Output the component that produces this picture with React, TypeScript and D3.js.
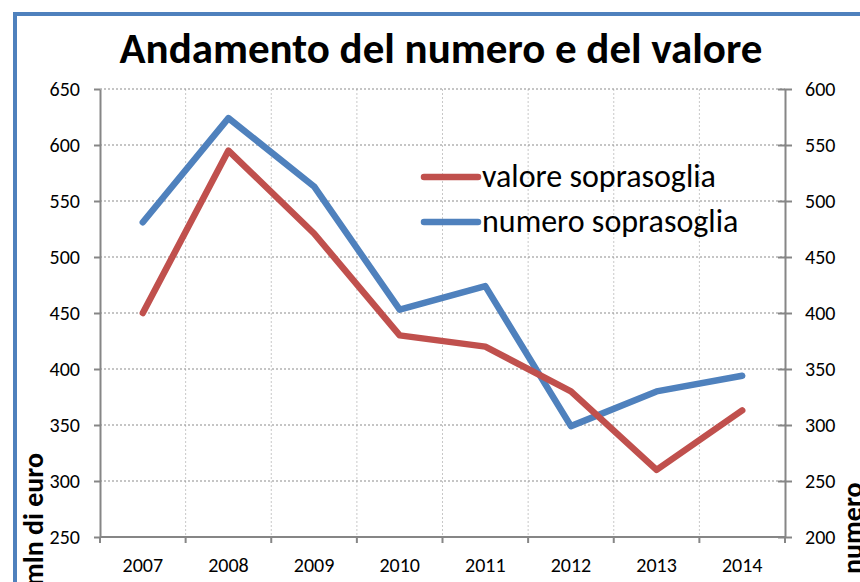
import React, { useRef, useEffect } from 'react';
import * as d3 from 'd3';

const years = ['2007', '2008', '2009', '2010', '2011', '2012', '2013', '2014'];
// mln di euro (left axis)
const valoreSoprasoglia = [450, 595, 521, 430, 420, 380, 310, 363];
// numero (right axis)
const numeroSoprasoglia = [481, 574, 513, 403, 424, 299, 330, 344];
const leftTicks = [250, 300, 350, 400, 450, 500, 550, 600, 650];
const rightTicks = [200, 250, 300, 350, 400, 450, 500, 550, 600];

const RED = '#C0504D';
const BLUE = '#4F81BD';
const FONT = 'Carlito, Calibri, "Open Sans", sans-serif';

const App: React.FC = () => {
  const svgRef = useRef<SVGSVGElement>(null);

  useEffect(() => {
    if (!svgRef.current) return;
    const width = 860;
    const height = 582;
    const svg = d3.select(svgRef.current);
    svg.selectAll('*').remove();

    svg.append('rect').attr('width', width).attr('height', height).attr('fill', '#fff');

    // chart frame
    svg.append('rect')
      .attr('x', 15).attr('y', 14)
      .attr('width', 900).attr('height', 700)
      .attr('fill', 'none')
      .attr('stroke', BLUE)
      .attr('stroke-width', 4);

    const margin = { top: 89, left: 100, right: 75, bottom: 45 };
    const x0 = margin.left, x1 = width - margin.right;
    const y0 = margin.top, y1 = height - margin.bottom;

    const x = d3.scaleBand().domain(years).range([x0, x1]);
    const yL = d3.scaleLinear().domain([250, 650]).range([y1, y0]);
    const yR = d3.scaleLinear().domain([200, 600]).range([y1, y0]);

    // title
    svg.append('text')
      .attr('x', 441).attr('y', 63)
      .attr('text-anchor', 'middle')
      .style('font-family', FONT)
      .style('font-size', '43px')
      .style('font-weight', 'bold')
      .text('Andamento del numero e del valore');

    // vertical gridlines at band edges
    years.slice(1).forEach(yr => {
      const gx = x(yr) || 0;
      svg.append('line')
        .attr('x1', gx).attr('x2', gx)
        .attr('y1', y0).attr('y2', y1)
        .attr('stroke', '#c8c8c8')
        .attr('stroke-width', 1)
        .attr('stroke-dasharray', '2,2');
    });

    // horizontal gridlines
    leftTicks.slice(1).forEach(t => {
      svg.append('line')
        .attr('x1', x0).attr('x2', x1)
        .attr('y1', yL(t)).attr('y2', yL(t))
        .attr('stroke', '#8c8c8c')
        .attr('stroke-width', 1.2)
        .attr('stroke-dasharray', '2,2');
    });

    const axisStyle = (g: d3.Selection<SVGGElement, unknown, null, undefined>) => {
      g.select('.domain').attr('stroke', '#868686').attr('stroke-width', 2);
      g.selectAll('.tick line').attr('stroke', '#868686').attr('stroke-width', 2);
      g.selectAll('.tick text')
        .style('font-family', FONT)
        .style('font-size', '20px')
        .attr('fill', '#000');
    };

    svg.append('g')
      .attr('transform', `translate(${x0},0)`)
      .call(d3.axisLeft(yL).tickValues(leftTicks).tickSize(6).tickSizeOuter(0).tickPadding(14))
      .call(axisStyle);

    // secondary axis: ticks cross the axis line
    const rAxis = svg.append('g')
      .attr('transform', `translate(${x1},0)`)
      .call(d3.axisRight(yR).tickValues(rightTicks).tickSize(7).tickSizeOuter(0).tickPadding(13))
      .call(axisStyle);
    rAxis.selectAll('.tick line').attr('x1', -7);

    const xAxis = svg.append('g').attr('transform', `translate(0,${y1})`);
    xAxis.append('line')
      .attr('x1', x0).attr('x2', x1)
      .attr('stroke', '#868686').attr('stroke-width', 2);
    years.concat(['end']).forEach((yr, i) => {
      const tx = i < years.length ? (x(yr) || 0) : x1;
      xAxis.append('line')
        .attr('x1', tx).attr('x2', tx).attr('y1', 0).attr('y2', 6)
        .attr('stroke', '#868686').attr('stroke-width', 2);
    });
    years.forEach(yr => {
      xAxis.append('text')
        .attr('x', (x(yr) || 0) + x.bandwidth() / 2)
        .attr('y', 35)
        .attr('text-anchor', 'middle')
        .style('font-family', FONT)
        .style('font-size', '20px')
        .text(yr);
    });

    // axis titles
    svg.append('text')
      .attr('transform', `translate(43,586) rotate(-90)`)
      .style('font-family', FONT)
      .style('font-size', '28px')
      .style('font-weight', 'bold')
      .text('mln di euro');
    svg.append('text')
      .attr('transform', `translate(862,574) rotate(-90)`)
      .style('font-family', FONT)
      .style('font-size', '28px')
      .style('font-weight', 'bold')
      .text('numero');

    const cx = (yr: string) => (x(yr) || 0) + x.bandwidth() / 2;

    const lineL = d3.line<number>().x((_, i) => cx(years[i])).y(d => yL(d));
    const lineR = d3.line<number>().x((_, i) => cx(years[i])).y(d => yR(d));

    svg.append('path')
      .attr('d', lineR(numeroSoprasoglia) || '')
      .attr('fill', 'none')
      .attr('stroke', BLUE)
      .attr('stroke-width', 6.5)
      .attr('stroke-linejoin', 'round')
      .attr('stroke-linecap', 'round');

    svg.append('path')
      .attr('d', lineL(valoreSoprasoglia) || '')
      .attr('fill', 'none')
      .attr('stroke', RED)
      .attr('stroke-width', 6.5)
      .attr('stroke-linejoin', 'round')
      .attr('stroke-linecap', 'round');

    // legend
    const legend = [
      { label: 'valore soprasoglia', color: RED, y: 177 },
      { label: 'numero soprasoglia', color: BLUE, y: 222 },
    ];
    legend.forEach(l => {
      svg.append('line')
        .attr('x1', 424).attr('x2', 478)
        .attr('y1', l.y).attr('y2', l.y)
        .attr('stroke', l.color)
        .attr('stroke-width', 6.5)
        .attr('stroke-linecap', 'round');
      svg.append('text')
        .attr('x', 482).attr('y', l.y + 10)
        .style('font-family', FONT)
        .style('font-size', '32px')
        .text(l.label);
    });
  }, []);

  return (
    <svg
      ref={svgRef}
      width={860}
      height={582}
      style={{ position: 'absolute', left: 0, top: 0, display: 'block' }}
    />
  );
};

export default App;
